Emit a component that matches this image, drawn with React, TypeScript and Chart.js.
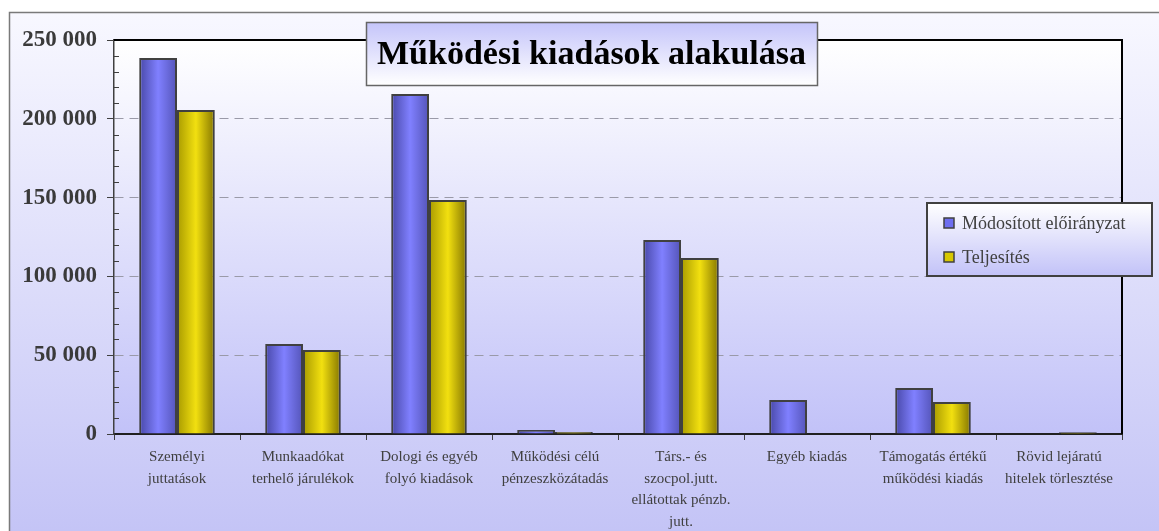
import React, { useEffect, useRef } from "react";
import { Chart, registerables } from "chart.js";
Chart.register(...registerables);

const categories: string[][] = [
  ["Személyi", "juttatások"],
  ["Munkaadókat", "terhelő járulékok"],
  ["Dologi és egyéb", "folyó kiadások"],
  ["Működési célú", "pénzeszközátadás"],
  ["Társ.- és", "szocpol.jutt.", "ellátottak pénzb.", "jutt."],
  ["Egyéb kiadás"],
  ["Támogatás értékű", "működési kiadás"],
  ["Rövid lejáratú", "hitelek törlesztése"],
];
const seriesNames = ["Módosított előirányzat", "Teljesítés"];
const modositott = [238500, 57100, 215700, 2500, 123100, 21600, 29200, 0];
const teljesites = [205600, 53300, 148500, 1300, 111700, 0, 20300, 1100];
const yMax = 250000;
const yStep = 50000;
const yMinorStep = 10000;
const titleText = "Működési kiadások alakulása";

const W = 1159;
const H = 531;
const CAT_PCT = 0.6;

const fmt = (v: number) => String(v).replace(/\B(?=(\d{3})+(?!\d))/g, " ");

function barFill(edgeL: string, mid: string, edgeR: string, dsIndex: number) {
  return (c: any) => {
    const chart = c.chart;
    const xs = chart.scales && chart.scales.x;
    if (!xs || c.dataIndex == null || !chart.chartArea) return mid;
    const cx = xs.getPixelForValue(c.dataIndex);
    const bw = ((xs.width / categories.length) * CAT_PCT) / 2;
    const x0 = dsIndex === 0 ? cx - bw : cx;
    const g = chart.ctx.createLinearGradient(x0, 0, x0 + bw, 0);
    g.addColorStop(0, edgeL);
    g.addColorStop(0.5, mid);
    g.addColorStop(1, edgeR);
    return g;
  };
}

const decorPlugin = {
  id: "decor",
  beforeDraw(chart: any) {
    const ctx = chart.ctx;
    const ca = chart.chartArea;
    ctx.save();
    ctx.fillStyle = "#ffffff";
    ctx.fillRect(0, 0, W, H);
    const g = ctx.createLinearGradient(0, 12, 0, H);
    g.addColorStop(0, "#f8f8ff");
    g.addColorStop(1, "#c4c4f6");
    ctx.fillStyle = g;
    ctx.fillRect(9, 12, W - 9, H - 12);
    ctx.strokeStyle = "#7a7a7a";
    ctx.lineWidth = 1.5;
    ctx.beginPath();
    ctx.moveTo(9.5, H);
    ctx.lineTo(9.5, 12.5);
    ctx.lineTo(W, 12.5);
    ctx.stroke();
    const pg = ctx.createLinearGradient(0, ca.top, 0, ca.bottom);
    pg.addColorStop(0, "#ffffff");
    pg.addColorStop(1, "#c2c2f8");
    ctx.fillStyle = pg;
    ctx.fillRect(ca.left, ca.top, ca.right - ca.left, ca.bottom - ca.top);
    ctx.restore();
  },
  afterDraw(chart: any) {
    const ctx = chart.ctx;
    const ca = chart.chartArea;
    const ys = chart.scales.y;
    ctx.save();
    // top/right border
    ctx.strokeStyle = "#000000";
    ctx.lineWidth = 2;
    ctx.beginPath();
    ctx.moveTo(ca.left, ca.top);
    ctx.lineTo(ca.right, ca.top);
    ctx.lineTo(ca.right, ca.bottom);
    ctx.stroke();
    // minor ticks (inside the plot)
    ctx.strokeStyle = "#404040";
    ctx.lineWidth = 1;
    ctx.beginPath();
    for (let v = yMinorStep; v < yMax; v += yMinorStep) {
      if (v % yStep === 0) continue;
      const y = Math.round(ys.getPixelForValue(v)) + 0.5;
      ctx.moveTo(ca.left, y);
      ctx.lineTo(ca.left + 5, y);
    }
    ctx.stroke();

    // title box
    const tx = 366, ty = 22, tw = 451, th = 63;
    const tg = ctx.createLinearGradient(0, ty, 0, ty + th);
    tg.addColorStop(0, "#c4c4fa");
    tg.addColorStop(1, "#ffffff");
    ctx.fillStyle = tg;
    ctx.fillRect(tx, ty, tw, th);
    ctx.strokeStyle = "#666666";
    ctx.lineWidth = 1.5;
    ctx.strokeRect(tx + 0.5, ty + 0.5, tw, th);
    ctx.fillStyle = "#000000";
    ctx.font = "bold 34px 'Liberation Serif'";
    ctx.textAlign = "center";
    ctx.textBaseline = "middle";
    ctx.fillText(titleText, tx + tw / 2, ty + th / 2 + 2);

    // legend box
    const lx = 927, ly = 203, lw = 225, lh = 73;
    const lg = ctx.createLinearGradient(0, ly, 0, ly + lh);
    lg.addColorStop(0, "#ffffff");
    lg.addColorStop(1, "#c2c2f8");
    ctx.fillStyle = lg;
    ctx.fillRect(lx, ly, lw, lh);
    ctx.strokeStyle = "#404040";
    ctx.lineWidth = 2;
    ctx.strokeRect(lx, ly, lw, lh);
    const swatch = ["#6e6ef0", "#d8c800"];
    const rowsY = [ly + 20, ly + 54];
    ctx.font = "18px 'Liberation Serif'";
    ctx.textAlign = "left";
    ctx.textBaseline = "middle";
    seriesNames.forEach((name, i) => {
      ctx.fillStyle = swatch[i];
      ctx.fillRect(lx + 17, rowsY[i] - 5, 10, 10);
      ctx.strokeStyle = "#404040";
      ctx.lineWidth = 1.5;
      ctx.strokeRect(lx + 17, rowsY[i] - 5, 10, 10);
      ctx.fillStyle = "#404040";
      ctx.fillText(name, lx + 35, rowsY[i] + 1);
    });
    ctx.restore();
  },
};

export default function App() {
  const ref = useRef<HTMLCanvasElement>(null);
  useEffect(() => {
    if (!ref.current) return;
    const chart = new Chart(ref.current, {
      type: "bar",
      data: {
        labels: categories,
        datasets: [
          {
            label: seriesNames[0],
            data: modositott,
            backgroundColor: barFill("#4848a8", "#8080ff", "#5454b8", 0),
            borderColor: "#404040",
            borderWidth: 2,
            borderSkipped: "bottom",
            categoryPercentage: CAT_PCT,
            barPercentage: 1,
          },
          {
            label: seriesNames[1],
            data: teljesites,
            backgroundColor: barFill("#a89a00", "#f2e010", "#857600", 1),
            borderColor: "#404040",
            borderWidth: 2,
            borderSkipped: "bottom",
            categoryPercentage: CAT_PCT,
            barPercentage: 1,
          },
        ],
      },
      options: {
        responsive: false,
        animation: false,
        devicePixelRatio: 1,
        layout: { padding: { left: 0, top: 40, right: 37, bottom: 0 } },
        plugins: {
          legend: { display: false },
          title: { display: false },
          tooltip: { enabled: false },
        },
        scales: {
          x: {
            afterFit: (s: any) => {
              s.height = 97;
            },
            grid: {
              offset: true,
              drawOnChartArea: false,
              tickLength: 6,
              tickColor: "#404040",
              tickWidth: 1,
            },
            border: { color: "#202020", width: 2 },
            ticks: {
              autoSkip: false,
              maxRotation: 0,
              minRotation: 0,
              padding: 6,
              color: "#404040",
              font: { family: "'Liberation Serif'", size: 15, lineHeight: 1.45 },
            },
          },
          y: {
            min: 0,
            max: yMax,
            afterFit: (s: any) => {
              s.width = 114;
            },
            grid: {
              color: (c: any) =>
                c.tick && (c.tick.value === 0 || c.tick.value === yMax) ? "rgba(0,0,0,0)" : "#9a9aa8",
              lineWidth: 1,
              tickLength: 7,
              tickColor: "#404040",
              tickWidth: 1,
            },
            border: { color: "#404040", width: 1.5, dash: [9, 6] },
            ticks: {
              stepSize: yStep,
              padding: 10,
              color: "#3a3a3a",
              font: { family: "'Liberation Serif'", size: 23, weight: "bold" },
              callback: (v: any) => fmt(Number(v)),
            },
          },
        },
      },
      plugins: [decorPlugin],
    });
    return () => chart.destroy();
  }, []);
  return (
    <div style={{ position: "fixed", left: 0, top: 0, width: W, height: H }}>
      <canvas ref={ref} width={W} height={H} style={{ width: W, height: H, display: "block" }} />
    </div>
  );
}
